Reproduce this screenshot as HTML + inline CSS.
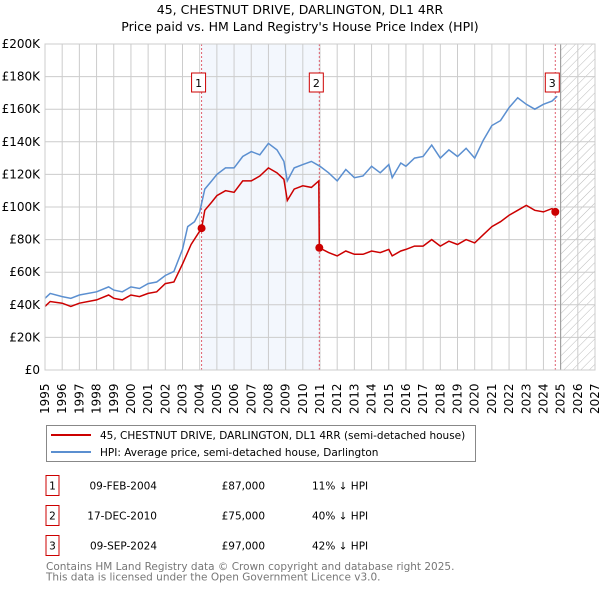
<!DOCTYPE html>
<html><head><meta charset="utf-8"><style>
body{margin:0;background:#fff;font-family:"DejaVu Sans","Liberation Sans",sans-serif;}
#wrap{position:relative;width:600px;height:590px;overflow:hidden;}
svg text{font-family:"DejaVu Sans","Liberation Sans",sans-serif;}
</style></head><body><div id="wrap">
<svg id="chart" width="600" height="590" style="position:absolute;left:0;top:0"></svg>
</div>
<script>
const hpiYears=[1995,1995.3,1996,1996.5,1997,1998,1998.7,1999,1999.5,2000,2000.5,2001,2001.5,2002,2002.5,2003,2003.3,2003.7,2004,2004.3,2004.7,2005,2005.5,2006,2006.5,2007,2007.5,2008,2008.5,2008.9,2009.1,2009.5,2010,2010.5,2011,2011.5,2012,2012.5,2013,2013.5,2014,2014.5,2015,2015.2,2015.7,2016,2016.5,2017,2017.5,2018,2018.5,2019,2019.5,2020,2020.5,2021,2021.5,2022,2022.5,2023,2023.5,2024,2024.5,2024.8];
const hpiValues=[44,47,45,44,46,48,51,49,48,51,50,53,54,58,60.5,74,88,91,97,111,116,120,124,124,131,134,132,139,135,128,116,124,126,128,125,121,116,123,118,119,125,121,126,118,127,125,130,131,138,130,135,131,136,130,141,150,153,161,167,163,160,163,165,168];
const paidYears=[1995,1995.3,1996,1996.5,1997,1998,1998.7,1999,1999.5,2000,2000.5,2001,2001.5,2002,2002.5,2003,2003.5,2004.11,2004.3,2004.7,2005,2005.5,2006,2006.5,2007,2007.5,2008,2008.5,2008.9,2009.1,2009.5,2010,2010.5,2010.93,2010.96,2011.5,2012,2012.5,2013,2013.5,2014,2014.5,2015,2015.2,2015.7,2016,2016.5,2017,2017.5,2018,2018.5,2019,2019.5,2020,2020.5,2021,2021.5,2022,2022.5,2023,2023.5,2024,2024.5,2024.69];
const paidValues=[39,42,41,39,41,43,46,44,43,46,45,47,48,53,54,65,77,87,98,103,107,110,109,116,116,119,124,121,117,104,111,113,112,116,75,72,70,73,71,71,73,72,74,70,73,74,76,76,80,76,79,77,80,78,83,88,91,95,98,101,98,97,99,97];
const saleYears=[2004.11,2010.96,2024.69];
const saleValues=[87,75,97];
const saleLabels=["1","2","3"];
const saleDates=["09-FEB-2004","17-DEC-2010","09-SEP-2024"];
const salePrices=["£87,000","£75,000","£97,000"];
const saleDiffs=["11% ↓ HPI","40% ↓ HPI","42% ↓ HPI"];
const yTicks=[0,20,40,60,80,100,120,140,160,180,200];
const yTickLabels=["£0","£20K","£40K","£60K","£80K","£100K","£120K","£140K","£160K","£180K","£200K"];
const xTicks=[];for(let y=1995;y<=2027;y++)xTicks.push(y);

const NS="http://www.w3.org/2000/svg";
const svg=document.getElementById('chart');
const L=45,R=595,T=44,B=370;
const x=v=>L+(v-1995)/(2027-1995)*(R-L);
const y=v=>B-v/200*(B-T);
function mk(tag,at,parent){const e=document.createElementNS(NS,tag);for(const k in at)e.setAttribute(k,at[k]);(parent||svg).appendChild(e);return e;}

let t=mk('text',{x:300,y:14,'text-anchor':'middle','font-size':12.5});t.textContent="45, CHESTNUT DRIVE, DARLINGTON, DL1 4RR";


t=mk('text',{x:300,y:31,'text-anchor':'middle','font-size':12.5});t.textContent="Price paid vs. HM Land Registry's House Price Index (HPI)";



const defs=mk('defs',{});
const pat=mk('pattern',{id:'hatch',width:6,height:6,patternUnits:'userSpaceOnUse',patternTransform:'rotate(45)'},defs);
mk('line',{x1:0,y1:0,x2:0,y2:6,stroke:'#bbb','stroke-width':1},pat);

let r=mk('rect',{x:x(saleYears[0]),y:T,width:x(saleYears[1])-x(saleYears[0]),height:B-T,fill:'#eef3fc',opacity:0.7});


r=mk('rect',{x:x(2025),y:T,width:R-x(2025),height:B-T,fill:'url(#hatch)'});



yTicks.forEach((v,i)=>{
  const g=mk('line',{x1:L,x2:R,y1:y(v),y2:y(v),stroke:'#ccc','stroke-width':1});
  
  
  const tx=mk('text',{x:L-5,y:y(v)+4,'text-anchor':'end','font-size':12});tx.textContent=yTickLabels[i];
  
  
});
xTicks.forEach(v=>{
  const g=mk('line',{x1:x(v),x2:x(v),y1:T,y2:B,stroke:'#ccc','stroke-width':1});
  
  
  const tx=mk('text',{x:0,y:0,'font-size':12,transform:`translate(${x(v)+4},${B+44}) rotate(-90)`});tx.textContent=v;
  
  
});
let vl=mk('line',{x1:x(2025),x2:x(2025),y1:T,y2:B,stroke:'#999','stroke-width':1});



saleYears.forEach((s,i)=>{
  const d=mk('line',{x1:x(s),x2:x(s),y1:T,y2:B,stroke:'#e06070','stroke-width':1,'stroke-dasharray':'2,2'});
  
  
});

const pts=(xs,vs)=>xs.map((a,i)=>x(a).toFixed(1)+','+y(vs[i]).toFixed(1)).join(' ');
let p=mk('polyline',{points:pts(hpiYears,hpiValues),fill:'none',stroke:'#5b8fd0','stroke-width':1.5});


p=mk('polyline',{points:pts(paidYears,paidValues),fill:'none',stroke:'#cc0000','stroke-width':1.5});



saleYears.forEach((s,i)=>{
  const c=mk('circle',{cx:x(s),cy:y(saleValues[i]),r:4,fill:'#cc0000'});
  
  
  const bx=mk('rect',{x:x(s)-10,y:73,width:14,height:19,fill:'#fff',stroke:'#cc0000','stroke-width':1});
  
  
  const tx=mk('text',{x:x(s)-3,y:87,'text-anchor':'middle','font-size':11});tx.textContent=saleLabels[i];
  
  
});
let ax=mk('rect',{x:L,y:T,width:R-L,height:B-T,fill:'none',stroke:'#ccc'});



const lg=mk('rect',{x:46.5,y:425.5,width:429,height:36,fill:'#fff',stroke:'#888'});


[["#cc0000","45, CHESTNUT DRIVE, DARLINGTON, DL1 4RR (semi-detached house)",439],["#5b8fd0","HPI: Average price, semi-detached house, Darlington",456]].forEach(a=>{
  const ln=mk('line',{x1:51,x2:91,y1:a[2]-4,y2:a[2]-4,stroke:a[0],'stroke-width':2});
  
  
  const tx=mk('text',{x:100,y:a[2],'font-size':10.5});tx.textContent=a[1];
  
  
});
saleLabels.forEach((lab,i)=>{
  const yy=475.5+i*30;
  const b=mk('rect',{x:46,y:yy,width:13,height:20,fill:'#fff',stroke:'#cc0000'});
  
  
  const cells=[[52.5,lab,'middle'],[157,saleDates[i],'end'],[265,salePrices[i],'end'],[312,saleDiffs[i],'start']];
  cells.forEach(c=>{const tx=mk('text',{x:c[0],y:yy+14,'font-size':10.5,'text-anchor':c[2]});tx.textContent=c[1];
    
    });
});
["Contains HM Land Registry data © Crown copyright and database right 2025.","This data is licensed under the Open Government Licence v3.0."].forEach((s,i)=>{
  const tx=mk('text',{x:46,y:570+i*10.5,'font-size':10.5,fill:'#777'});tx.textContent=s;
  
  
});
</script></body></html>
